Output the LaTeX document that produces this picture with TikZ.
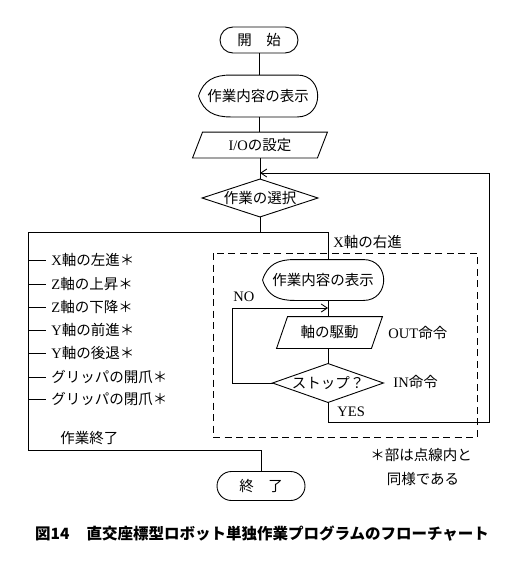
\documentclass[tikz,border=0pt]{standalone}
\usepackage{fontspec}
\setmainfont{Liberation Serif}
\newfontfamily\jp{Noto Sans CJK JP}
\usetikzlibrary{shapes.geometric,shapes.misc,arrows.meta,calc}
\newcommand\J[1]{{\jp #1}}
\newcommand\dispshape[1]{%
  \draw (#1.west) .. controls ($(#1.west)+(5,-16)$) and ($(#1.north west)+(16,0)$) .. ($(#1.north west)+(32,0)$)
    -- ($(#1.north east)+(-20,0)$) .. controls ($(#1.north east)+(7,0)$) and ($(#1.south east)+(7,0)$) .. ($(#1.south east)+(-20,0)$)
    -- ($(#1.south west)+(32,0)$) .. controls ($(#1.south west)+(16,0)$) and ($(#1.west)+(5,16)$) .. (#1.west);}
\newcommand\parashape[2]{%
  \draw (#1.south west) -- ($(#1.north west)+(#2,0)$) -- (#1.north east) -- ($(#1.south east)+(-#2,0)$) -- cycle;}
\newcommand\diashape[1]{%
  \draw (#1.north) -- (#1.east) -- (#1.south) -- (#1.west) -- cycle;}
\begin{document}
\begin{tikzpicture}[x=1pt,y=-1pt, line width=0.9pt,
  every node/.style={font=\fontsize{14.5}{16}\selectfont},
  term/.style={rounded rectangle, draw, inner sep=0pt},
  shp/.style={draw=none, inner sep=0pt},
  lbl/.style={anchor=west, inner sep=0pt},
  arr/.style={-{Straight Barb[length=6pt,width=8pt]}},
  dashbox/.style={dash pattern=on 7pt off 4.5pt}]
\useasboundingbox (0,0) rectangle (528,570);

% main column
\node[term, minimum width=78pt, minimum height=26pt] (start) at (259,40) {\J{開　始}};
\node[shp, minimum width=118pt, minimum height=41pt] (disp1) at (258,96) {\J{作業内容の表示}};
\dispshape{disp1}
\node[shp, minimum width=134pt, minimum height=25pt] (io) at (260,145) {I/O\J{の設定}};
\parashape{io}{10}
\node[shp, minimum width=115pt, minimum height=37pt] (sel) at (260,198) {\J{作業の選択}};
\diashape{sel}

\coordinate (j1) at (260,232);
\coordinate (tl) at (28,232);
\coordinate (tr) at (328,232);
\coordinate (bl) at (28,450);
\coordinate (br) at (261,450);
\node[term, minimum width=88pt, minimum height=29pt] (end) at (261,486) {\J{終　了}};

\draw (start.south) -- (start.south |- disp1.north);
\draw (disp1.south -| start.south) -- (io.north -| start.south);
\draw (io.south -| sel.north) -- (sel.north);
\draw (sel.south) -- (j1);
\draw (tr) -- (tl) -- (bl) -- (br) -- (end.north);

% left branches
\foreach \yy/\t [count=\i] in {260/X\J{軸の左進＊}, 284/Z\J{軸の上昇＊}, 307/Z\J{軸の下降＊}, 330/Y\J{軸の前進＊}, 353/Y\J{軸の後退＊}, 377/\J{グリッパの開爪＊}, 399/\J{グリッパの閉爪＊}}{
  \coordinate (t\i) at (28,\yy);
  \node[lbl] (L\i) at (51,\yy) {\t};
  \draw (t\i) -- (t\i -| 46,0);
}
\node[lbl] (fin) at (60,438) {\J{作業終了}};

% dashed box
\node[lbl] (xr) at (333,242) {X\J{軸の右進}};
\draw[dashbox] (213,253) rectangle (477,437);

\node[shp, minimum width=120pt, minimum height=40pt] (disp2) at (323,280) {\J{作業内容の表示}};
\dispshape{disp2}
\node[shp, minimum width=105pt, minimum height=31pt] (drv) at (329.5,332.5) {\J{軸の駆動}};
\parashape{drv}{11}
\node[shp, minimum width=110pt, minimum height=38pt] (stop) at (328,383) {\J{ストップ？}};
\diashape{stop}

\coordinate (m1) at (328,308);
\coordinate (nol) at (232,383);
\coordinate (nou) at (232,308);
\coordinate (b1) at (328,422);
\coordinate (b2) at (489,422);
\coordinate (b3) at (489,173);
\coordinate (b4) at (260,173);

\draw (tr) -- (tr |- disp2.north);
\draw (disp2.south -| m1) -- (drv.north -| m1);
\draw (drv.south -| stop.north) -- (stop.north);
\draw (stop.west) -- (nol) -- (nou);
\draw[arr] (nou) -- (m1);
\draw (stop.south) -- (b1) -- (b2) -- (b3);
\draw[arr] (b3) -- (b4);

\node[lbl] (no) at (233,297) {NO};
\node[lbl] (out) at (388,333) {OUT\J{命令}};
\node[lbl] (in) at (393,382) {IN\J{命令}};
\node[lbl] (yes) at (337,412) {YES};

% note
\node[inner sep=0pt] (n1) at (421,455) {\J{＊部は点線内と}};
\node[inner sep=0pt] (n2) at (423,479) {\J{同様である}};

% caption
\node[inner sep=0pt, font=\fontsize{15.5}{17}\selectfont] (cap) at (262,534) {\jp\bfseries 図14\hspace{1.1em}直交座標型ロボット単独作業プログラムのフローチャート};
\end{tikzpicture}
\end{document}
